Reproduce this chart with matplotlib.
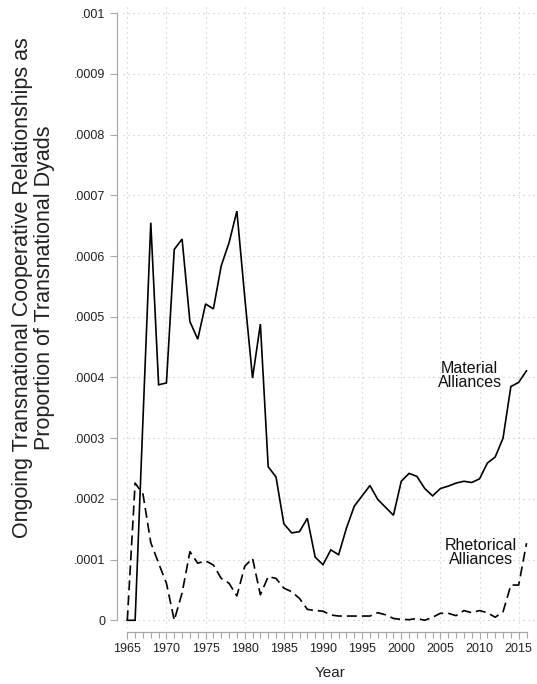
"""
Ongoing transnational cooperative relationships, 1965-2016
"""
import numpy as np
import matplotlib.pyplot as plt
from matplotlib.ticker import FixedLocator, FuncFormatter

years = list(range(1965, 2017))

material = [
    0.0, 0.0, 0.00033, 0.000655, 0.000388, 0.000391, 0.000611, 0.000628,
    0.000492, 0.000463, 0.000521, 0.000513, 0.000584, 0.000622, 0.000674,
    0.000533, 0.000399, 0.000488, 0.000253, 0.000236, 0.000159, 0.000144,
    0.000146, 0.000168, 0.000104, 0.0000916, 0.000116, 0.000108, 0.000152,
    0.000188, 0.000205, 0.000222, 0.000199, 0.000186, 0.000173, 0.000229,
    0.000242, 0.000237, 0.000217, 0.000205, 0.000217, 0.000221, 0.000226,
    0.000229, 0.000227, 0.000233, 0.000259, 0.000269, 0.0003, 0.000385,
    0.000392, 0.000411,
]

rhetorical = [
    0.0, 0.000226, 0.000208, 0.000128, 0.000094, 0.000061, 0.0, 0.000045,
    0.000113, 0.000094, 0.000098, 0.000091, 0.000069, 0.000061, 0.00004,
    0.000089, 0.000102, 0.000042, 0.000072, 0.000069, 0.000053, 0.000047,
    0.000036, 0.000018, 0.000016, 0.000015, 0.0000087, 0.000007, 0.000007,
    0.000007, 0.000007, 0.000007, 0.0000125, 0.000009, 0.000003, 0.0000015,
    0.000001, 0.000003, 0.0, 0.000005, 0.0000115, 0.0000115, 0.0000076,
    0.000016, 0.0000125, 0.000016, 0.0000125, 0.000005, 0.000014, 0.000058,
    0.000058, 0.000127,
]

y_ticks = [i / 10000 for i in range(11)]
x_ticks = list(range(1965, 2016, 5))

plt.rcParams["font.family"] = ["Liberation Sans", "DejaVu Sans"]


def fmt_y(v, pos):
    if v == 0:
        return "0"
    return ("%.4f" % v).rstrip("0").lstrip("0")


def generate_figure():
    fig = plt.figure(figsize=(5.37, 6.84), dpi=100)
    ax = fig.add_axes([0.2283, 0.0825, 0.7717, 0.907])

    # Grid, drawn by hand so it can sit on the tick positions only
    grid_kw = dict(color="#c4c4c4", lw=0.8, linestyle=(0, (1, 3.5)), zorder=0)
    for yv in y_ticks:
        ax.axhline(yv, **grid_kw)
    for xv in x_ticks:
        ax.axvline(xv, **grid_kw)

    ax.plot(years, material, color="black", lw=1.2, solid_joinstyle="miter")
    ax.plot(years, rhetorical, color="black", lw=1.2, dashes=(6, 3))

    ax.text(2008.73, 0.000403, "Material\nAlliances", ha="center", va="center",
            fontsize=11.5, linespacing=0.95, color="#111111")
    ax.text(2010.2, 0.0001117, "Rhetorical\nAlliances", ha="center",
            va="center", fontsize=11.5, linespacing=0.95, color="#111111")

    ax.set_xlim(1964.4, 2017.34)
    ax.set_ylim(-0.000012, 0.00101)

    for side in ["top", "right"]:
        ax.spines[side].set_visible(False)
    ax.spines["left"].set_position(("outward", 4.25))
    ax.spines["bottom"].set_position(("outward", 3.2))
    ax.spines["left"].set_bounds(0, 0.001)
    ax.spines["bottom"].set_bounds(1965, 2016)
    for side in ["left", "bottom"]:
        ax.spines[side].set_color("#a8a8a8")
        ax.spines[side].set_linewidth(0.9)

    ax.yaxis.set_major_locator(FixedLocator(y_ticks))
    ax.yaxis.set_major_formatter(FuncFormatter(fmt_y))
    ax.xaxis.set_major_locator(FixedLocator(x_ticks))
    ax.xaxis.set_minor_locator(FixedLocator(years))
    ax.tick_params(axis="both", which="major", length=5, width=0.8,
                   color="#a8a8a8", labelsize=9, labelcolor="#222222", pad=3)
    ax.tick_params(axis="x", which="minor", length=4, width=0.8,
                   color="#a8a8a8")

    ax.set_xlabel("Year", fontsize=11, labelpad=8, color="#222222")
    fig.text(0.062, 0.579,
             "Ongoing Transnational Cooperative Relationships as\n"
             "Proportion of Transnational Dyads",
             rotation=90, ha="center", va="center", fontsize=15.5,
             linespacing=1.05, multialignment="center", color="#222222")
    return fig


def main():
    fig = generate_figure()
    fig.savefig("out.png", dpi=100)


if __name__ == "__main__":
    main()
